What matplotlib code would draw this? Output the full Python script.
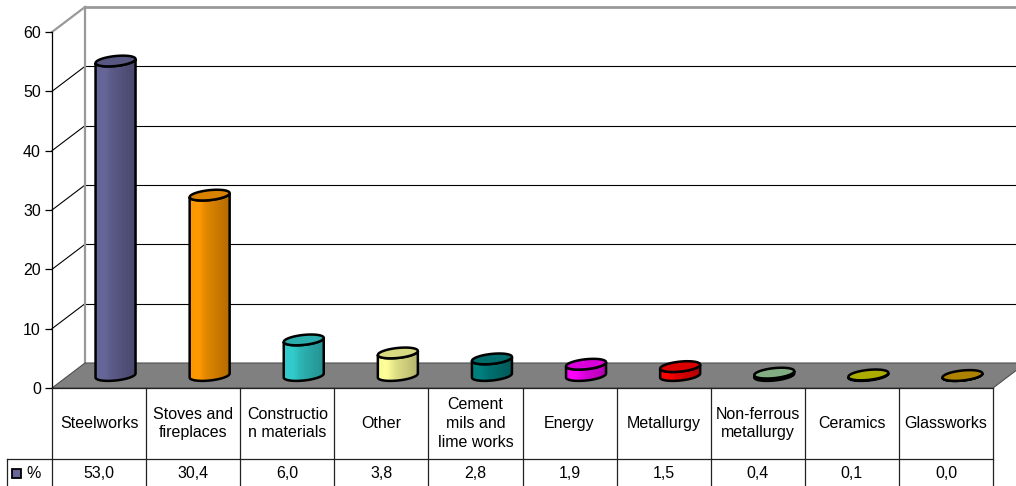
import matplotlib.pyplot as plt
import numpy as np
from matplotlib.patches import Polygon, Rectangle

plt.rcParams['font.family'] = ['Liberation Sans', 'DejaVu Sans']

categories = ['Steelworks', 'Stoves and\nfireplaces', 'Constructio\nn materials', 'Other',
              'Cement\nmils and\nlime works', 'Energy', 'Metallurgy',
              'Non-ferrous\nmetallurgy', 'Ceramics', 'Glassworks']
values = [53.0, 30.4, 6.0, 3.8, 2.8, 1.9, 1.5, 0.4, 0.1, 0.0]
colors = ['#666699', '#ff9900', '#33cccc', '#ffff99', '#008080',
          '#ff00ff', '#ff0000', '#99cc99', '#cccc00', '#cc9900']
series_name = '%'
yticks = [0, 10, 20, 30, 40, 50, 60]

# layout in pixels
W, H = 1016, 486
x0_px, y0_px, y60_px = 52, 388, 32
colw = 94.1
py = (y0_px - y60_px) / 60.0

fig = plt.figure(figsize=(W / 100, H / 100), dpi=100)
ax = fig.add_axes([x0_px / W, (H - y0_px) / H, 10 * colw / W, (y0_px - y60_px) / H])

n = len(values)
DX = 33 / colw          # depth offset in category units
DY = 25 / py            # depth offset in value units
ymax = yticks[-1]

# floor
floor = Polygon([(-0.5, 0), (n - 0.5, 0), (n - 0.5 + DX, DY), (-0.5 + DX, DY)],
                closed=True, facecolor='#808080', edgecolor='#505050', lw=0.8,
                clip_on=False, zorder=1)
ax.add_patch(floor)

# back wall gridlines + side diagonals
for v in yticks[1:-1]:
    ax.plot([-0.5 + DX, n + 1], [v + DY, v + DY], color='black', lw=0.8, clip_on=False, zorder=0.5)
    ax.plot([-0.5, -0.5 + DX], [v, v + DY], color='black', lw=0.8, clip_on=False, zorder=0.5)

wall = '#999999'
ax.plot([-0.5 + DX, -0.5 + DX], [DY, ymax + DY], color=wall, lw=1.6, clip_on=False, zorder=0.6)
ax.plot([-0.5 + DX, n + 1], [ymax + DY, ymax + DY], color=wall, lw=2.0, clip_on=False, zorder=0.6)
ax.plot([-0.5, -0.5 + DX], [ymax, ymax + DY], color=wall, lw=1.6, clip_on=False, zorder=0.6)

# cylinders
rx = 20 / colw
ry = 5 / py
tilt = 2.0 / py
t_low = np.linspace(np.pi, 2 * np.pi, 60)
t_all = np.linspace(0, 2 * np.pi, 120)

u = np.linspace(-1, 1, 200)
shade = 1.0 - 0.3 * (u + 1) / 2 + 0.06 * np.exp(-((u + 0.55) / 0.25) ** 2)

def rgb(c):
    c = c.lstrip('#')
    return np.array([int(c[i:i + 2], 16) / 255 for i in (0, 2, 4)])

for i, (v, c) in enumerate(zip(values, colors)):
    cx = i + DX / 2
    base = DY / 2
    top = base + v
    bx = cx + rx * np.cos(t_low)
    by_bot = base + ry * np.sin(t_low) + tilt * np.cos(t_low)
    by_top = top + ry * np.sin(t_low) + tilt * np.cos(t_low)
    body_xy = np.column_stack([np.r_[bx, bx[::-1]], np.r_[by_bot, by_top[::-1]]])
    body = Polygon(body_xy, closed=True, facecolor='none', edgecolor='none', zorder=3)
    ax.add_patch(body)
    col = rgb(c)
    img = np.clip(shade[None, :, None] * col[None, None, :], 0, 1)
    im = ax.imshow(img, extent=[cx - rx, cx + rx, base - ry - tilt, top + ry + tilt],
                   aspect='auto', origin='lower', zorder=3, interpolation='bilinear')
    im.set_clip_path(body)
    ax.add_patch(Polygon(body_xy, closed=True, fill=False, edgecolor='black', lw=1.8, zorder=4))
    tx = cx + rx * np.cos(t_all)
    ty = top + ry * np.sin(t_all) + tilt * np.cos(t_all)
    ax.add_patch(Polygon(np.column_stack([tx, ty]), closed=True,
                         facecolor=np.clip(col * 0.85, 0, 1), edgecolor='black', lw=1.8, zorder=5))

ax.set_xlim(-0.5, n - 0.5)
ax.set_ylim(0, ymax)

# y axis
for s in ['top', 'right', 'bottom']:
    ax.spines[s].set_visible(False)
ax.spines['left'].set_color('black')
ax.spines['left'].set_linewidth(0.9)
ax.set_xticks([])
ax.set_yticks(yticks)
ax.tick_params(axis='y', direction='out', length=5, width=0.9, labelsize=11.5, pad=3, colors='black')

# data table
y_bottom = -(H - y0_px) / py
y_mid = -(459 - y0_px) / py
y_vals = -(473 - y0_px) / py
x_left = -0.5 + (7 - x0_px) / colw
lc = '#222222'
ax.plot([-0.5, n - 0.5], [0, 0], color=lc, lw=0.9, clip_on=False, zorder=6)
ax.plot([x_left, n - 0.5], [y_mid, y_mid], color=lc, lw=0.9, clip_on=False, zorder=6)
ax.plot([x_left, x_left], [y_mid, y_bottom], color=lc, lw=0.9, clip_on=False, zorder=6)
for k in range(n + 1):
    ax.plot([k - 0.5, k - 0.5], [0, y_bottom], color=lc, lw=0.9, clip_on=False, zorder=6)

for i, (cat, v) in enumerate(zip(categories, values)):
    ax.text(i, y_mid / 2, cat, ha='center', va='center', fontsize=11.5,
            linespacing=1.3, clip_on=False)
    ax.text(i, y_vals, f'{v:.1f}'.replace('.', ','),
            ha='center', va='center', fontsize=11.5, clip_on=False)

# legend key
kx = -0.5 + (12 - x0_px) / colw
kw = 9 / colw
kh = 9 / py
ax.add_patch(Rectangle((kx, y_vals - kh / 2), kw, kh, facecolor=colors[0], edgecolor='black',
                       lw=1.3, clip_on=False, zorder=6))
ax.text(-0.5 + (26 - x0_px) / colw, y_vals, series_name,
        ha='left', va='center', fontsize=11.5, clip_on=False)

fig.savefig('out.png', dpi=100)
